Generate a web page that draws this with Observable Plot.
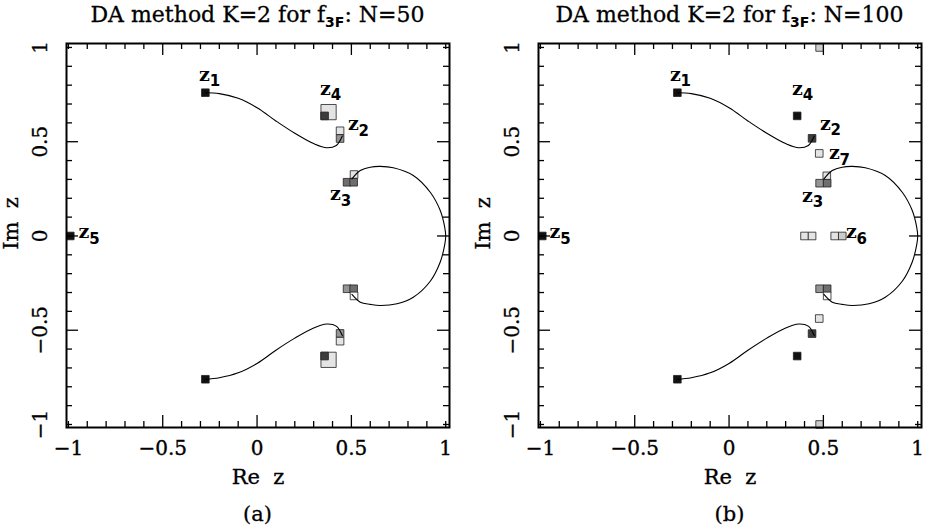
<!DOCTYPE html>
<html><head><meta charset="utf-8">
<script src="https://cdn.jsdelivr.net/npm/d3@7"></script>
<script src="https://cdn.jsdelivr.net/npm/@observablehq/plot@0.6"></script>
<style>
body{margin:0;background:#fff;font-family:"DejaVu Serif",serif;color:#000;}
#wrap{display:flex;width:928px;height:528px;overflow:hidden;}
.panel{width:464px;}
.title{height:30px;line-height:30px;font-size:22px;text-align:center;white-space:nowrap;-webkit-text-stroke:0.3px #000;}
.title sub{font-family:"DejaVu Sans",sans-serif;font-weight:bold;font-size:14px;line-height:0;vertical-align:-5px;-webkit-text-stroke:0;}
.cap{height:28px;line-height:28px;font-size:21px;text-align:center;-webkit-text-stroke:0.3px #000;}
</style></head><body>
<div id="wrap"></div>
<script>
// ---- data ----
const tickValues = [-1, -0.5, 0, 0.5, 1];
const tickLabels = ["−1", "−0.5", "0", "0.5", "1"];
const minorTicks = [-0.9,-0.8,-0.7,-0.6,-0.4,-0.3,-0.2,-0.1,0.1,0.2,0.3,0.4,0.6,0.7,0.8,0.9];

const titles = ["N=50", "N=100"];
const captions = ["(a)", "(b)"];

// trajectories (same in both panels)
const upperLeftCurve = [
  {x:-0.274,y:0.760},{x:-0.20,y:0.755},{x:-0.10,y:0.730},{x:0.00,y:0.680},
  {x:0.10,y:0.610},{x:0.20,y:0.545},{x:0.30,y:0.490},{x:0.37,y:0.468},
  {x:0.42,y:0.480},{x:0.452,y:0.530}
];
const lowerLeftCurve = [
  {x:-0.274,y:-0.760},{x:-0.20,y:-0.752},{x:-0.10,y:-0.726},{x:0.00,y:-0.676},
  {x:0.10,y:-0.606},{x:0.20,y:-0.542},{x:0.30,y:-0.488},{x:0.37,y:-0.467},
  {x:0.42,y:-0.478},{x:0.452,y:-0.528}
];
const rightCurve = [
  {x:0.503,y:0.303},{x:0.547,y:0.347},{x:0.600,y:0.365},{x:0.653,y:0.369},
  {x:0.722,y:0.362},{x:0.828,y:0.321},{x:0.918,y:0.232},{x:0.971,y:0.135},
  {x:0.994,y:0.050},{x:1.000,y:0.000},{x:0.994,y:-0.050},{x:0.971,y:-0.138},
  {x:0.918,y:-0.240},{x:0.828,y:-0.325},{x:0.742,y:-0.360},{x:0.653,y:-0.369},
  {x:0.600,y:-0.363},{x:0.547,y:-0.351},{x:0.503,y:-0.310}
];

// shade levels: 0 white, 1 light, 2 light grey, 3 mid, 4 mid-dark, 5 dark, 6 black
const levelDomain = [0,1,2,3,4,5,6];
const levelGreys = ["#ffffff","#e4e4e4","#cccccc","#949494","#6e6e6e","#3c3c3c","#111111"];

// panel (a) N=50
const bigSquaresA = [
  {x:0.379,y:0.657,level:1},{x:0.379,y:-0.657,level:1}
];
const squaresA = [
  {x:-0.274,y:0.76,level:6},{x:-0.274,y:-0.76,level:6},{x:-0.99,y:0,level:6},
  {x:0.358,y:0.637,level:5},{x:0.358,y:-0.637,level:5},
  {x:0.44,y:0.558,level:1},{x:0.44,y:0.517,level:3},
  {x:0.44,y:-0.517,level:3},{x:0.44,y:-0.558,level:1},
  {x:0.514,y:0.326,level:1},{x:0.477,y:0.285,level:4},{x:0.512,y:0.285,level:4},
  {x:0.477,y:-0.28,level:3},{x:0.512,y:-0.28,level:4},{x:0.514,y:-0.318,level:0}
];
const labelsA = [
  {sub:"1",x:-0.279,y:0.857},{sub:"4",x:0.362,y:0.782},{sub:"2",x:0.51,y:0.594},
  {sub:"3",x:0.415,y:0.223},{sub:"5",x:-0.918,y:0.019}
];

// panel (b) N=100
const bigSquaresB = [];
const squaresB = [
  {x:-0.274,y:0.76,level:6},{x:-0.274,y:-0.76,level:6},{x:-0.99,y:0,level:6},
  {x:0.48,y:1.0,level:2},{x:0.48,y:-1.0,level:2},
  {x:0.361,y:0.637,level:6},{x:0.361,y:-0.637,level:6},
  {x:0.44,y:0.518,level:5},{x:0.44,y:-0.518,level:5},
  {x:0.478,y:0.438,level:1},{x:0.478,y:-0.438,level:1},
  {x:0.518,y:0.319,level:1},{x:0.48,y:0.28,level:3},{x:0.52,y:0.28,level:4},
  {x:0.48,y:-0.28,level:3},{x:0.52,y:-0.28,level:4},{x:0.52,y:-0.318,level:0},
  {x:0.40,y:0,level:1},{x:0.44,y:0,level:1},{x:0.56,y:0,level:1},{x:0.60,y:0,level:2}
];
const labelsB = [
  {sub:"1",x:-0.285,y:0.857},{sub:"4",x:0.362,y:0.782},{sub:"2",x:0.51,y:0.596},
  {sub:"7",x:0.558,y:0.44},{sub:"3",x:0.415,y:0.215},{sub:"6",x:0.648,y:0.02},
  {sub:"5",x:-0.923,y:0.019}
];

// ---- drawing ----
const H = 470, MT = 13, MB = 73;
function panel(bigSquares, squares, labels, marginLeft, marginRight) {
  const W = 464;
  const fw = W - marginLeft - marginRight, fh = H - MT - MB;
  const longT = 12, shortT = 6;
  const longTicks = tickValues.filter(v => Math.abs(v) < 1);
  const shortTicks = minorTicks.concat(tickValues.filter(v => Math.abs(v) === 1));
  const tickStyle = {stroke: "black", strokeWidth: 1.3};
  const txt = {fill: "black", stroke: "black", strokeWidth: 0.35};
  return Plot.plot({
    width: W, height: H,
    marginLeft, marginRight, marginTop: MT, marginBottom: MB,
    x: {domain: [-1.01, 1.02], axis: null},
    y: {domain: [-1.016, 1.021], axis: null},
    color: {type: "ordinal", domain: levelDomain, range: levelGreys},
    style: {fontFamily: "DejaVu Serif", fontSize: "20px", background: "white", overflow: "visible", whiteSpace: "pre"},
    marks: [
      Plot.dot(bigSquares, {x: "x", y: "y", symbol: "square", r: 8.6, fill: "level", stroke: "#222", strokeWidth: 0.8}),
      Plot.dot(squares, {x: "x", y: "y", symbol: "square", r: 4.3, fill: "level", stroke: "#222", strokeWidth: 0.8}),
      Plot.line(upperLeftCurve, {x: "x", y: "y", curve: "catmull-rom", stroke: "black", strokeWidth: 1.1}),
      Plot.line(lowerLeftCurve, {x: "x", y: "y", curve: "catmull-rom", stroke: "black", strokeWidth: 1.1}),
      Plot.line(rightCurve, {x: "x", y: "y", curve: "catmull-rom", stroke: "black", strokeWidth: 1.1}),
      // inward ticks on all four sides
      Plot.tickX(longTicks, {x: d => d, insetTop: fh - longT, ...tickStyle}),
      Plot.tickX(longTicks, {x: d => d, insetBottom: fh - longT, ...tickStyle}),
      Plot.tickX(shortTicks, {x: d => d, insetTop: fh - shortT, ...tickStyle}),
      Plot.tickX(shortTicks, {x: d => d, insetBottom: fh - shortT, ...tickStyle}),
      Plot.tickY(longTicks, {y: d => d, insetRight: fw - longT, ...tickStyle}),
      Plot.tickY(longTicks, {y: d => d, insetLeft: fw - longT, ...tickStyle}),
      Plot.tickY(shortTicks, {y: d => d, insetRight: fw - shortT, ...tickStyle}),
      Plot.tickY(shortTicks, {y: d => d, insetLeft: fw - shortT, ...tickStyle}),
      Plot.frame({stroke: "black", strokeWidth: 2}),
      // tick labels
      Plot.text(tickValues, {x: d => d, text: (d, i) => tickLabels[i], frameAnchor: "bottom", dy: 21, lineAnchor: "middle", ...txt}),
      Plot.text(tickValues, {y: d => d, text: (d, i) => tickLabels[i], frameAnchor: "left", textAnchor: "middle", rotate: -90, dx: -26, lineAnchor: "middle", ...txt}),
      // axis titles
      Plot.text(["Re  z"], {text: d => d, frameAnchor: "bottom", dy: 50, lineAnchor: "middle", fontSize: 21, ...txt}),
      Plot.text(["Im  z"], {text: d => d, frameAnchor: "left", textAnchor: "middle", rotate: -90, dx: -55, dy: -12, lineAnchor: "middle", fontSize: 21, ...txt}),
      // root labels z_k
      Plot.text(labels, {x: "x", y: "y", text: () => "z", fontWeight: "bold", fontSize: 19, lineAnchor: "middle", fill: "black"}),
      Plot.text(labels, {x: "x", y: "y", text: "sub", dx: 10.5, dy: 7, fontFamily: "DejaVu Sans", fontWeight: "bold", fontSize: 15, lineAnchor: "middle", fill: "black"})
    ]
  });
}

const wrap = document.getElementById("wrap");
const specs = [
  {big: bigSquaresA, sq: squaresA, lab: labelsA, ml: 66, mr: 15},
  {big: bigSquaresB, sq: squaresB, lab: labelsB, ml: 74, mr: 7}
];
specs.forEach((s, i) => {
  const div = document.createElement("div");
  div.className = "panel";
  const t = document.createElement("div");
  t.className = "title";
  t.style.marginLeft = s.ml + "px";
  t.style.width = (464 - s.ml - s.mr) + "px";
  t.innerHTML = "DA method K=2 for f<sub>3F</sub>: " + titles[i];
  div.appendChild(t);
  div.appendChild(panel(s.big, s.sq, s.lab, s.ml, s.mr));
  const c = document.createElement("div");
  c.className = "cap";
  c.style.marginLeft = s.ml + "px";
  c.style.width = (464 - s.ml - s.mr) + "px";
  c.textContent = captions[i];
  div.appendChild(c);
  wrap.appendChild(div);
});
</script>
</body></html>
